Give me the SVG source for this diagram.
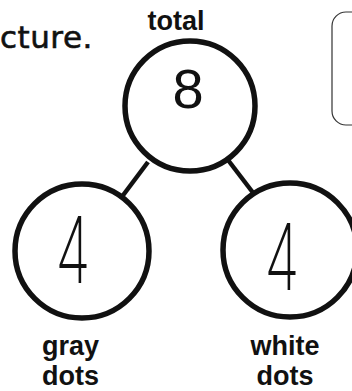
<svg xmlns="http://www.w3.org/2000/svg" width="352" height="391" viewBox="0 0 352 391">
  <style>
    .ring { fill: none; stroke: #111; stroke-width: 5.5; }
    .conn { stroke: #111; stroke-width: 4.5; stroke-linecap: butt; }
    .lbl { font-family: "Liberation Sans", Arial, sans-serif; font-weight: bold; font-size: 27px; fill: #111; }
    .hand { font-family: "Inter", "Liberation Sans", sans-serif; font-weight: 200; font-size: 92px; fill: #111; }
    .top { font-family: "DejaVu Sans", "Noto Sans", sans-serif; font-size: 31px; letter-spacing: 0.5px; fill: #111; stroke: #111; stroke-width: 0.6px; }
  </style>
  <rect width="352" height="391" fill="#ffffff"/>
  <text class="top" x="0" y="48">cture.</text>
  <rect x="332" y="12" width="60" height="113" rx="14" fill="none" stroke="#333" stroke-width="1.2"/>
  <g id="connectors">
    <line class="conn" x1="148" y1="162" x2="121" y2="198"/>
    <line class="conn" x1="228" y1="160" x2="254" y2="194"/>
  </g>
  <g id="total">
    <text class="lbl" x="176" y="30" text-anchor="middle" font-size="25">total</text>
    <circle class="ring" cx="190" cy="106" r="65"/>
    <text x="188" y="108" text-anchor="middle" font-family="'Liberation Sans', Arial, sans-serif" font-size="56" fill="#111">8</text>
  </g>
  <g id="gray">
    <circle class="ring" cx="82" cy="251" r="67"/>
    <text class="hand" transform="translate(73 283) scale(0.62 1)" text-anchor="middle">4</text>
    <text class="lbl" x="42" y="355">gray</text>
    <text class="lbl" x="42" y="385">dots</text>
  </g>
  <g id="white">
    <circle class="ring" cx="290" cy="250" r="67"/>
    <text class="hand" transform="translate(282 290) scale(0.62 1)" text-anchor="middle">4</text>
    <text class="lbl" x="285" y="355" text-anchor="middle">white</text>
    <text class="lbl" x="285" y="385" text-anchor="middle">dots</text>
  </g>
</svg>
